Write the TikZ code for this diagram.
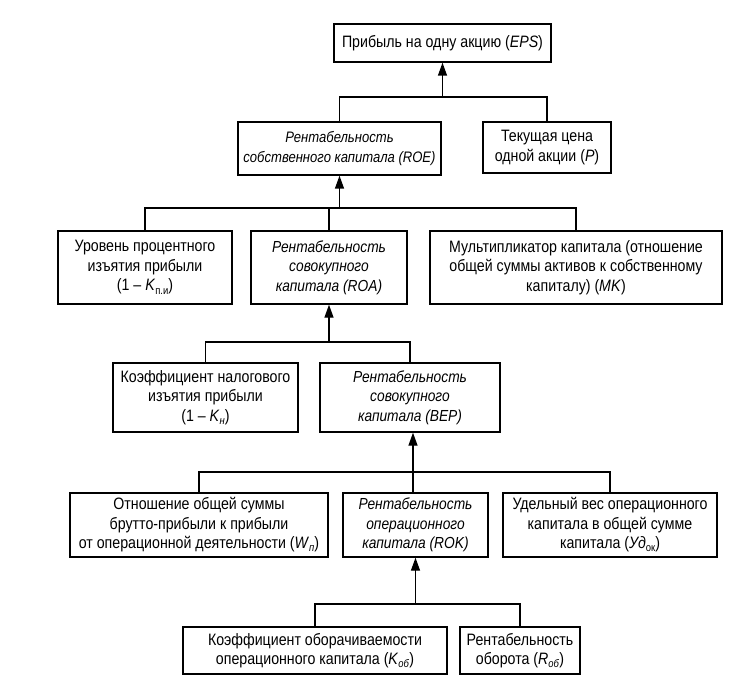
\documentclass[tikz,border=0pt]{standalone}
\usepackage{fontspec}
\setmainfont{Liberation Sans}[FakeStretch=0.86]
\usetikzlibrary{arrows.meta}
\newcommand\lowidx[1]{\raisebox{-0.35ex}{\fontsize{11}{11}\selectfont #1}}
\tikzset{
  box/.style={draw, line width=1.4pt, align=center, inner sep=0pt,
    font=\fontsize{16.5}{19.5}\selectfont},
  itbox/.style={box, font=\fontsize{16}{19.5}\selectfont\itshape},
  conn/.style={line width=1.4pt},
  arr/.style={line width=1.4pt, -{Triangle[length=13pt,width=9pt]}}
}
\begin{document}
\begin{tikzpicture}[x=1pt,y=-1pt]
\useasboundingbox[fill=white] (0,0) rectangle (734,690);
% row 1
\node[box, minimum width=217pt, minimum height=38pt] (eps) at (442.5,43) {Прибыль на одну акцию (\textit{EPS})};
% row 2
\node[itbox, font=\fontsize{15.2}{19.5}\selectfont\itshape, minimum width=203pt, minimum height=53pt] (roe) at (339.5,148.5) {Рентабельность\\собственного капитала (ROE)};
\node[box, minimum width=128pt, minimum height=51pt] (p) at (547,147.5) {Текущая цена\\одной акции (\textit{P})};
% row 3
\node[box, minimum width=174pt, minimum height=73pt] (lvl) at (145,267.5) {Уровень процентного\\изъятия прибыли\\(1 – \textit{K}\lowidx{п.и})};
\node[itbox, minimum width=156pt, minimum height=73pt] (roa) at (329,267.5) {Рентабельность\\совокупного\\капитала (ROA)};
\node[box, minimum width=292pt, minimum height=73pt] (mk) at (576,267.5) {Мультипликатор капитала (отношение\\общей суммы активов к собственному\\капиталу) (\textit{MK})};
% row 4
\node[box, minimum width=185pt, minimum height=69pt] (tax) at (205.5,397.5) {Коэффициент налогового\\изъятия прибыли\\(1 – \textit{K}\lowidx{\textit{н}})};
\node[itbox, minimum width=180pt, minimum height=69pt] (bep) at (410,397.5) {Рентабельность\\совокупного\\капитала (BEP)};
% row 5
\node[box, minimum width=258pt, minimum height=64pt] (wp) at (199,525) {Отношение общей суммы\\брутто-прибыли к прибыли\\от операционной деятельности (\textit{W}\lowidx{\textit{п}})};
\node[itbox, minimum width=145pt, minimum height=64pt] (rok) at (415.5,525) {Рентабельность\\операционного\\капитала (ROK)};
\node[box, minimum width=214pt, minimum height=64pt] (ud) at (610,525) {Удельный вес операционного\\капитала в общей сумме\\капитала (\textit{Уд}\lowidx{ок})};
% row 6
\node[box, minimum width=264pt, minimum height=47pt] (kob) at (315,650.5) {Коэффициент оборачиваемости\\операционного капитала (\textit{K}\lowidx{\textit{об}})};
\node[box, minimum width=120pt, minimum height=47pt] (rob) at (520,650.5) {Рентабельность\\оборота (\textit{R}\lowidx{\textit{об}})};
% junctions
\coordinate (j1) at (442.5,97);
\coordinate (j2) at (339.5,208);
\coordinate (j3) at (329,342);
\coordinate (j4) at (413,472);
\coordinate (j5) at (415.5,604);
% connectors
\draw[arr] (j1) -- (eps.south -| j1);
\draw[conn] (roe.north) -- (roe.north |- j1) -- (p.north |- j1) -- (p.north);
\draw[arr] (j2) -- (roe.south -| j2);
\draw[conn] (lvl.north) -- (lvl.north |- j2) -- (mk.north |- j2) -- (mk.north);
\draw[conn] (roa.north) -- (roa.north |- j2);
\draw[arr] (j3) -- (roa.south -| j3);
\draw[conn] (tax.north) -- (tax.north |- j3) -- (bep.north |- j3) -- (bep.north);
\draw[arr] (j4) -- (bep.south -| j4);
\draw[conn] (wp.north) -- (wp.north |- j4) -- (ud.north |- j4) -- (ud.north);
\draw[conn] (j4) -- (rok.north -| j4);
\draw[arr] (j5) -- (rok.south -| j5);
\draw[conn] (kob.north) -- (kob.north |- j5) -- (rob.north |- j5) -- (rob.north);
\end{tikzpicture}
\end{document}
